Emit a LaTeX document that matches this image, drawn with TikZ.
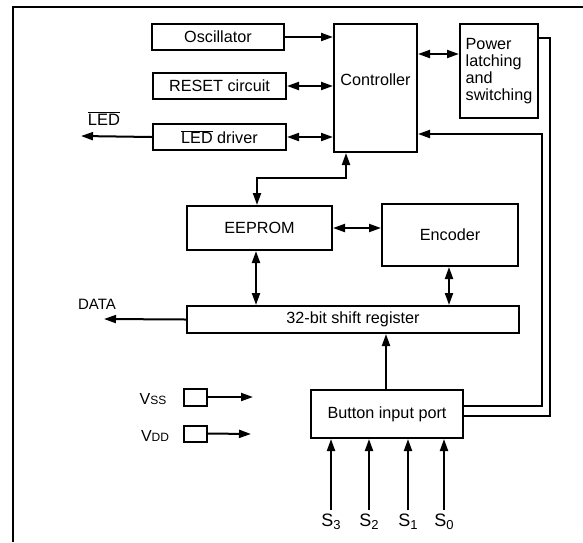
\documentclass[tikz,border=0pt]{standalone}
\usepackage{fontspec}
\setmainfont{Liberation Sans}
\usetikzlibrary{arrows.meta}
\begin{document}
\begin{tikzpicture}[x=1pt,y=-1pt,
  box/.style={draw, line width=2pt, inner sep=0pt, font=\fontsize{16.2}{17}\selectfont},
  wire/.style={line width=2pt},
  arr/.style={wire, -{Triangle[length=12pt,width=8pt]}},
  darr/.style={wire, {Triangle[length=12pt,width=8pt]}-{Triangle[length=12pt,width=8pt]}},
  lbl/.style={inner sep=0pt}]
\useasboundingbox (0,0) rectangle (583,542);
\draw[line width=2pt] (583,7) -- (13,7) -- (13,542);

\node[box, minimum width=132pt, minimum height=26pt] (osc) at (218,37) {Oscillator};
\node[box, minimum width=133pt, minimum height=26pt] (reset) at (219.5,86) {RESET circuit};
\node[box, minimum width=133pt, minimum height=26pt] (led) at (219.5,137) {$\overline{\hbox{LED}}$ driver};
\node[box, minimum width=83pt, minimum height=128pt] (ctrl) at (375.5,88) {};
\node[lbl, font=\fontsize{16.2}{17}\selectfont] (ctrltxt) at ([yshift=8pt]ctrl.center) {Controller};
\node[box, minimum width=78pt, minimum height=94pt, align=left] (pwr) at (499,71) {Power\\latching\\and\\switching};
\node[box, minimum width=145pt, minimum height=44pt] (eep) at (259.5,228) {EEPROM};
\node[box, minimum width=136pt, minimum height=62pt] (enc) at (450,235) {Encoder};
\node[box, minimum width=332pt, minimum height=27pt] (sr) at (353,319.5) {32-bit shift register};
\node[box, minimum width=152pt, minimum height=48pt] (btn) at (387,414) {Button input port};
\node[box, minimum width=23pt, minimum height=17pt] (vss) at (195.5,397) {};
\node[box, minimum width=23pt, minimum height=16pt] (vdd) at (195.5,433.5) {};

\coordinate (ledout) at (81,136);
\coordinate (dataout) at (104,319);
\coordinate (vssout) at (253,397);
\coordinate (vddout) at (251,434);
\coordinate (s3) at (331,510);
\coordinate (s2) at (369,510);
\coordinate (s1) at (408,510);
\coordinate (s0) at (444,510);

\draw[arr] (osc.east) -- (osc.east -| ctrl.west);
\draw[darr] (reset.east) -- (reset.east -| ctrl.west);
\draw[darr] (led.east) -- (led.east -| ctrl.west);
\draw[arr] (led.west) -- (ledout);
\draw[darr] (ctrl.east |- 0,54) -- (pwr.west |- 0,54);
\draw[darr] (ctrl.south -| 346,0) -- (346,178) -- (257,178) -- (eep.north -| 257,0);
\draw[darr] (eep.east |- 0,228) -- (enc.west |- 0,228);
\draw[darr] (eep.south -| 256,0) -- (sr.north -| 256,0);
\draw[darr] (enc.south -| 449,0) -- (sr.north -| 449,0);
\draw[arr] (sr.west) -- (dataout);
\draw[arr] (btn.north -| 386,0) -- (sr.south -| 386,0);
\draw[wire] (pwr.east |- 0,38) -- (550,38) -- (550,416) -- (btn.east |- 0,416);
\draw[arr] (btn.east |- 0,406) -- (542,406) -- (542,134) -- (ctrl.east |- 0,134);
\draw[arr] (vss.east) -- (vssout);
\draw[arr] (vdd.east) -- (vddout);
\foreach \s in {s3,s2,s1,s0} \draw[arr] (\s) -- (btn.south -| \s);

\node[lbl, anchor=base, font=\fontsize{16.5}{16.5}\selectfont] (ledlbl) at (104,125) {$\overline{\hbox{LED}}$};
\node[lbl, anchor=base, font=\fontsize{15}{15}\selectfont] (datalbl) at (97,309) {DATA};
\node[lbl, anchor=base, font=\fontsize{16}{16}\selectfont] (vsslbl) at (153,404) {V{\fontsize{12}{12}\selectfont SS}};
\node[lbl, anchor=base, font=\fontsize{16}{16}\selectfont] (vddlbl) at (155,441.5) {V{\fontsize{12}{12}\selectfont DD}};
\node[lbl, anchor=base, font=\fontsize{18}{18}\selectfont] (s3lbl) at (331,526) {S\raisebox{-0.35ex}{\fontsize{13}{13}\selectfont 3}};
\node[lbl, anchor=base, font=\fontsize{18}{18}\selectfont] (s2lbl) at (369,526) {S\raisebox{-0.35ex}{\fontsize{13}{13}\selectfont 2}};
\node[lbl, anchor=base, font=\fontsize{18}{18}\selectfont] (s1lbl) at (408,526) {S\raisebox{-0.35ex}{\fontsize{13}{13}\selectfont 1}};
\node[lbl, anchor=base, font=\fontsize{18}{18}\selectfont] (s0lbl) at (444,526) {S\raisebox{-0.35ex}{\fontsize{13}{13}\selectfont 0}};
\end{tikzpicture}
\end{document}
